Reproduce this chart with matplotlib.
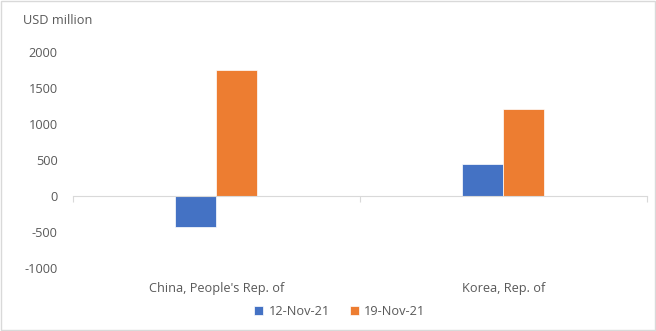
import matplotlib.pyplot as plt
import numpy as np
from matplotlib.patches import Rectangle
from matplotlib import transforms

categories = ["China, People's Rep. of", "Korea, Rep. of"]
series_names = ["12-Nov-21", "19-Nov-21"]
nov12 = [-430, 450]
nov19 = [1750, 1210]
y_ticks = [-1000, -500, 0, 500, 1000, 1500, 2000]

colors = ["#4472C4", "#ED7D31"]
text_color = "#595959"

plt.rcParams["font.family"] = ["Open Sans", "DejaVu Sans"]
plt.rcParams["axes.unicode_minus"] = False

fs = 9.2
fig = plt.figure(figsize=(6.56, 3.31), dpi=100)
ax = fig.add_axes([0.111, 0.19, 0.875, 0.653])

x = np.arange(len(categories))
w = 0.143
ax.bar(x - w / 2, nov12, w, color=colors[0], label=series_names[0], edgecolor="white", linewidth=0.5)
ax.bar(x + w / 2, nov19, w, color=colors[1], label=series_names[1], edgecolor="white", linewidth=0.5)

ax.set_xlim(-0.5, len(categories) - 0.5)
ax.set_ylim(-1000, 2000)
ax.set_yticks(y_ticks)
ax.tick_params(axis="y", length=0, labelsize=fs, labelcolor=text_color, pad=11)

# zero line with category boundary ticks
for s in ["top", "right", "left"]:
    ax.spines[s].set_visible(False)
ax.spines["bottom"].set_position(("data", 0))
ax.spines["bottom"].set_color("#D9D9D9")
ax.set_xticks(np.arange(-0.5, len(categories), 1.0))
ax.set_xticklabels([])
ax.tick_params(axis="x", length=4, color="#D9D9D9")

# category labels at the bottom of the plot area
trans = transforms.blended_transform_factory(ax.transData, ax.transAxes)
for xi, name in zip(x, categories):
    ax.text(xi, -0.095, name, transform=trans, ha="center", va="center",
            fontsize=fs, color=text_color)

ax.text(-0.087, 1.145, "USD million", transform=ax.transAxes, ha="left", va="center",
        fontsize=fs, color=text_color)

leg = fig.legend(loc="center", bbox_to_anchor=(0.518, 0.058), ncol=2, frameon=False,
                 fontsize=fs, handlelength=0.7, handleheight=0.7, columnspacing=1.6,
                 handletextpad=0.4)
for t in leg.get_texts():
    t.set_color(text_color)

fig.patches.append(Rectangle((0.002, 0.003), 0.996, 0.994, transform=fig.transFigure,
                             fill=False, edgecolor="#D9D9D9", linewidth=1))

fig.savefig("out.png", dpi=100)
